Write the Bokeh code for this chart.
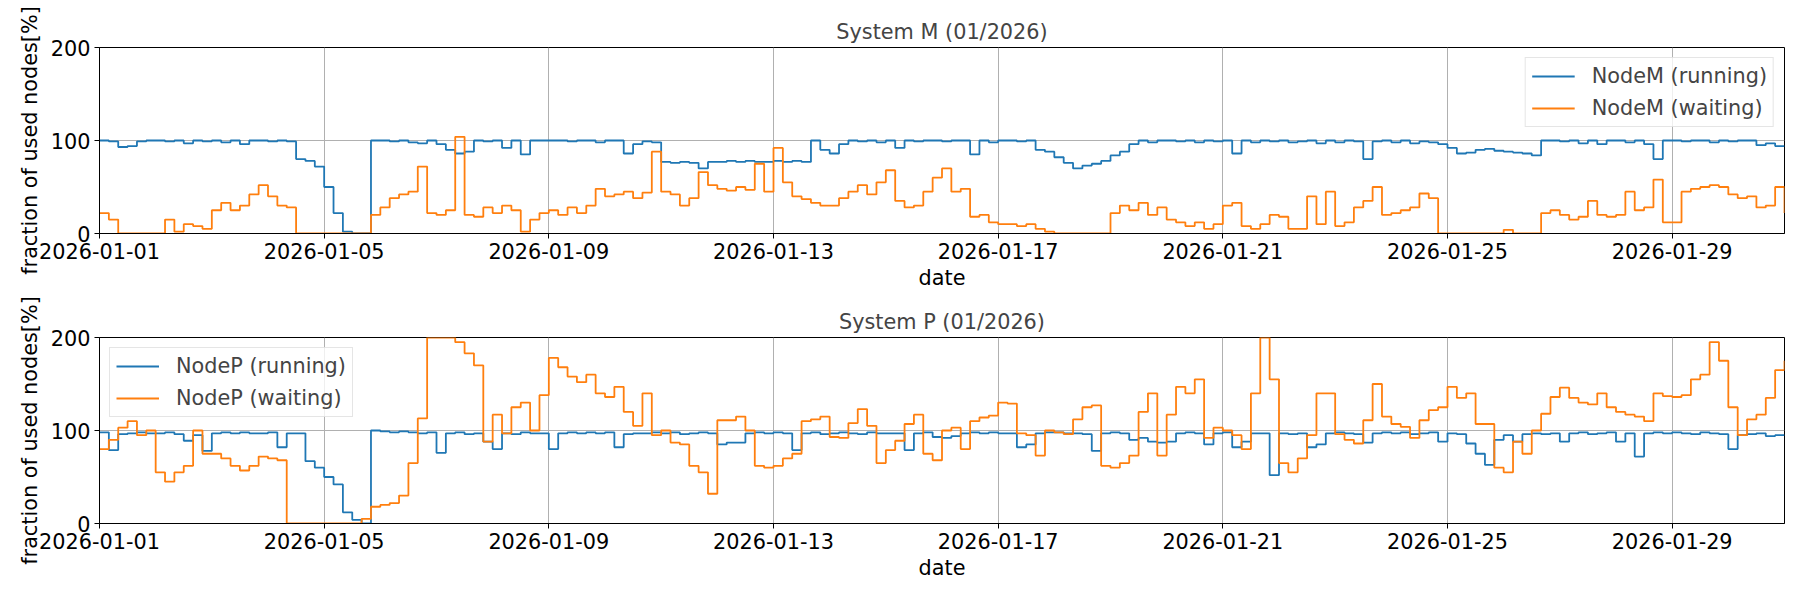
import pandas as pd
from datetime import datetime
from bokeh.plotting import figure
from bokeh.layouts import column
from bokeh.models import Range1d, FixedTicker, DatetimeTickFormatter
from bokeh.embed import file_html
from bokeh.resources import INLINE

# ---- data (4-hour samples from 2026-01-01 00:00 to 2026-01-31 00:00) ----
start_date = "2026-01-01"
step_hours = 4
tick_dates = ["2026-01-01", "2026-01-05", "2026-01-09", "2026-01-13",
              "2026-01-17", "2026-01-21", "2026-01-25", "2026-01-29"]
y_ticks = [0, 100, 200]

nodeM_running = [
    100, 99, 93, 94, 99, 100,
    100, 99, 100, 97, 100, 99,
    100, 98, 100, 96, 100, 100,
    99, 100, 99, 80, 78, 72,
    50, 22, 2, 0, 0, 100,
    100, 99, 100, 98, 97, 100,
    96, 90, 86, 88, 100, 99,
    100, 92, 100, 85, 100, 100,
    100, 100, 99, 100, 100, 98,
    100, 100, 86, 96, 99, 98,
    77, 76, 77, 76, 70, 77,
    77, 78, 77, 78, 77, 77,
    78, 77, 78, 77, 100, 90,
    86, 96, 100, 99, 100, 98,
    100, 92, 100, 99, 100, 100,
    99, 100, 100, 85, 100, 98,
    100, 100, 99, 100, 90, 88,
    82, 76, 70, 73, 75, 78,
    84, 88, 96, 100, 98, 100,
    100, 99, 100, 98, 100, 99,
    100, 86, 100, 98, 100, 99,
    100, 98, 99, 100, 97, 100,
    98, 100, 99, 80, 99, 100,
    98, 100, 97, 99, 98, 96,
    92, 86, 87, 90, 91, 89,
    88, 87, 86, 84, 100, 100,
    99, 100, 97, 100, 96, 100,
    100, 98, 100, 96, 80, 100,
    100, 99, 100, 100, 98, 100,
    99, 100, 100, 95, 97, 94,
    94,
]

nodeM_waiting = [
    22, 15, 0, 0, 0, 0,
    0, 15, 2, 10, 8, 5,
    25, 33, 25, 30, 42, 52,
    40, 30, 28, 0, 0, 0,
    0, 0, 0, 0, 0, 20,
    28, 38, 42, 45, 72, 22,
    20, 25, 104, 20, 18, 28,
    22, 30, 25, 2, 15, 22,
    25, 20, 28, 22, 30, 48,
    40, 42, 45, 38, 44, 88,
    45, 42, 30, 38, 66, 52,
    48, 46, 50, 47, 75, 45,
    92, 55, 40, 37, 33, 30,
    30, 38, 45, 52, 42, 55,
    68, 35, 28, 30, 45, 60,
    70, 45, 48, 18, 20, 12,
    10, 10, 8, 10, 5, 2,
    0, 0, 0, 0, 0, 0,
    22, 30, 25, 33, 20, 28,
    15, 12, 8, 12, 5, 10,
    30, 33, 8, 5, 10, 20,
    18, 5, 5, 40, 10, 45,
    8, 12, 28, 35, 50, 20,
    22, 25, 28, 43, 38, 0,
    0, 0, 0, 0, 0, 0,
    4, 0, 0, 0, 22, 25,
    20, 15, 18, 35, 20, 18,
    20, 45, 25, 28, 58, 12,
    12, 45, 48, 50, 52, 50,
    42, 38, 40, 28, 30, 50,
    22,
]

nodeP_running = [
    98, 79, 96, 97, 98, 97,
    97, 98, 96, 89, 95, 78,
    97, 98, 97, 98, 97, 97,
    98, 82, 97, 97, 67, 60,
    50, 42, 12, 4, 0, 100,
    99, 98, 99, 98, 97, 98,
    76, 97, 98, 96, 97, 88,
    80, 97, 96, 98, 97, 97,
    80, 97, 98, 97, 98, 97,
    98, 82, 96, 97, 97, 98,
    97, 98, 96, 97, 98, 97,
    85, 87, 87, 97, 98, 97,
    98, 97, 79, 97, 98, 96,
    97, 98, 97, 96, 98, 97,
    97, 97, 79, 97, 98, 93,
    92, 94, 97, 98, 97, 98,
    97, 97, 82, 85, 97, 98,
    98, 97, 97, 96, 78, 97,
    98, 97, 90, 92, 88, 87,
    88, 97, 98, 97, 85, 97,
    98, 82, 88, 97, 97, 52,
    97, 96, 97, 82, 85, 97,
    98, 97, 96, 87, 97, 98,
    97, 98, 96, 97, 98, 88,
    97, 96, 86, 75, 63, 90,
    95, 88, 96, 97, 96, 97,
    88, 97, 98, 96, 97, 98,
    88, 97, 72, 97, 98, 97,
    98, 97, 96, 98, 97, 96,
    80, 95, 96, 97, 94, 95,
    95,
]

nodeP_waiting = [
    80, 90, 103, 110, 95, 100,
    55, 45, 55, 62, 100, 75,
    75, 70, 62, 57, 62, 72,
    70, 68, 0, 0, 0, 0,
    0, 0, 0, 0, 5, 18,
    20, 22, 30, 65, 113, 200,
    200, 200, 195, 183, 170, 88,
    117, 97, 125, 130, 100, 138,
    178, 168, 158, 152, 160, 140,
    136, 147, 120, 105, 140, 95,
    100, 87, 85, 62, 55, 32,
    111, 111, 115, 100, 62, 60,
    62, 70, 75, 110, 112, 115,
    93, 92, 108, 123, 105, 65,
    79, 89, 107, 117, 75, 68,
    100, 103, 80, 110, 114, 116,
    130, 129, 97, 95, 73, 100,
    98, 96, 112, 125, 127, 62,
    60, 65, 73, 120, 140, 73,
    117, 147, 140, 155, 92, 103,
    100, 95, 80, 140, 200, 155,
    65, 55, 70, 95, 140, 140,
    96, 90, 86, 111, 150, 115,
    107, 104, 92, 111, 122, 125,
    147, 135, 140, 107, 107, 60,
    55, 88, 75, 100, 118, 136,
    146, 135, 130, 128, 140, 125,
    120, 117, 115, 110, 140, 137,
    136, 138, 155, 160, 195, 175,
    125, 95, 112, 117, 135, 165,
    175,
]

times = pd.date_range(start_date, periods=len(nodeM_running), freq=f"{step_hours}h")
x_tick_ms = [int(pd.Timestamp(d).value // 10**6) for d in tick_dates]

FONT = "DejaVu Sans"
FS = "20.8px"
BLUE = "#1f77b4"
ORANGE = "#ff7f0e"


def make_panel(title, run, wait, run_label, wait_label, legend_loc,
               height, border_top, border_bottom):
    p = figure(width=1790, height=height, x_axis_type="datetime",
               output_backend="svg", toolbar_location=None,
               x_range=Range1d(datetime(2026, 1, 1), datetime(2026, 1, 31)),
               y_range=Range1d(0, 200),
               min_border_left=99, min_border_right=6,
               min_border_top=border_top, min_border_bottom=border_bottom)
    p.background_fill_color = "white"
    p.border_fill_color = "white"
    p.outline_line_color = "black"
    p.outline_line_width = 1

    p.title.text = title
    p.title.align = "center"
    p.title.text_font = FONT
    p.title.text_font_size = FS
    p.title.text_font_style = "normal"
    p.title.standoff = 7

    xt = FixedTicker(ticks=x_tick_ms)
    yt = FixedTicker(ticks=y_ticks)
    p.xaxis.ticker = xt
    p.yaxis.ticker = yt
    p.xgrid.ticker = xt
    p.ygrid.ticker = yt
    fmt = "%Y-%m-%d"
    p.xaxis.formatter = DatetimeTickFormatter(
        milliseconds=fmt, seconds=fmt, minsec=fmt, minutes=fmt, hourmin=fmt,
        hours=fmt, days=fmt, months=fmt, years=fmt)
    for g in (p.xgrid, p.ygrid):
        g.grid_line_color = "#b0b0b0"
        g.grid_line_width = 1

    p.xaxis.axis_label = "date"
    p.yaxis.axis_label = "fraction of used nodes[%]"
    for ax in (p.xaxis, p.yaxis):
        ax.axis_label_text_font = FONT
        ax.axis_label_text_font_size = FS
        ax.axis_label_text_font_style = "normal"
        ax.axis_label_text_color = "black"
        ax.major_label_text_font = FONT
        ax.major_label_text_font_size = FS
        ax.major_label_text_color = "black"
        ax.axis_line_color = "black"
        ax.major_tick_line_color = "black"
        ax.major_tick_out = 5
        ax.major_tick_in = 0
        ax.minor_tick_line_color = None
        ax.major_label_standoff = 4
    p.xaxis.axis_label_standoff = 4
    p.yaxis.axis_label_standoff = 6

    p.step(x=times, y=run, mode="after", line_color=BLUE, line_width=1.8,
           legend_label=run_label)
    p.step(x=times, y=wait, mode="after", line_color=ORANGE, line_width=1.8,
           legend_label=wait_label)

    lg = p.legend[0]
    lg.location = legend_loc
    lg.margin = 10
    lg.padding = 6
    lg.spacing = 8
    lg.glyph_width = 43
    lg.glyph_height = 22
    lg.label_height = 22
    lg.label_standoff = 17
    lg.label_text_font = FONT
    lg.label_text_font_size = FS
    lg.border_line_color = "#cccccc"
    lg.border_line_width = 1
    lg.background_fill_alpha = 0.8
    return p


p1 = make_panel("System M (01/2026)", nodeM_running, nodeM_waiting,
                "NodeM (running)", "NodeM (waiting)", "top_right",
                295, 47, 62)
p2 = make_panel("System P (01/2026)", nodeP_running, nodeP_waiting,
                "NodeP (running)", "NodeP (waiting)", "top_left",
                297, 42, 69)

layout = column(p1, p2, spacing=0)
open("out.html", "w").write(file_html(layout, INLINE))
